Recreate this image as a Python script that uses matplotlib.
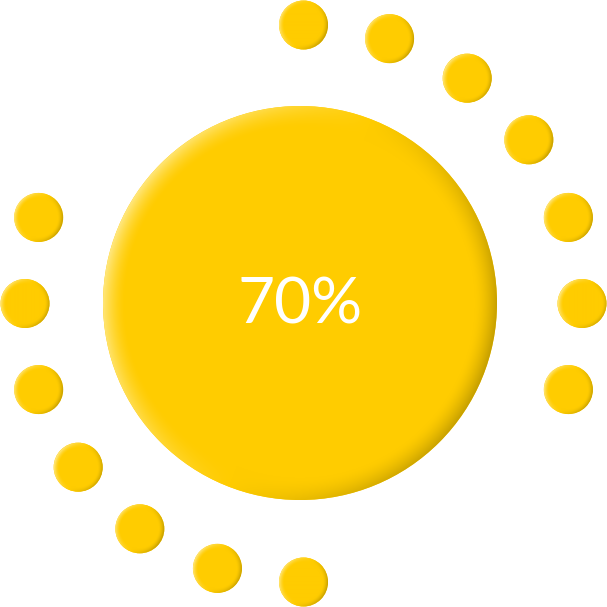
import numpy as np
import matplotlib
matplotlib.use("Agg")
import matplotlib.pyplot as plt
from matplotlib.patches import Circle

# ---- data ----
value_label = "70%"
n_positions = 20
# dots clockwise from top (90 deg), 18 deg apart; 1 = dot drawn
filled = [1, 1, 1, 1, 1, 1, 1, 0, 0, 0, 1, 1, 1, 1, 1, 1, 1, 0, 0, 0]

base = np.array([255, 204, 0]) / 255.0
light = np.array([255, 232, 130]) / 255.0
dark = np.array([196, 158, 0]) / 255.0

W = H = 607
fig = plt.figure(figsize=(6.07, 6.07), dpi=100)
ax = fig.add_axes([0, 0, 1, 1])
ax.set_xlim(0, W)
ax.set_ylim(H, 0)
ax.set_aspect("equal")
ax.axis("off")


def shaded_circle(cx, cy, r, edge, strength=1.0):
    circ = Circle((cx, cy), r, facecolor=base, edgecolor="none", zorder=2)
    ax.add_patch(circ)
    n = int(2 * r) + 4
    xs = np.linspace(cx - r - 2, cx + r + 2, n)
    ys = np.linspace(cy - r - 2, cy + r + 2, n)
    X, Y = np.meshgrid(xs, ys)
    dx, dy = X - cx, Y - cy
    d = np.sqrt(dx ** 2 + dy ** 2) + 1e-9
    t = np.clip((d - (r - edge)) / edge, 0, 1) ** 1.6
    direc = 0.9 * dx / d + 0.35 * dy / d
    direc = np.clip(direc, -1, 1)
    img = np.tile(base, (n, n, 1))
    kd = np.clip(direc, 0, 1)[..., None] * t[..., None] * strength
    kl = np.clip(-direc, 0, 1)[..., None] * t[..., None] * strength
    img = img * (1 - kd - kl) + dark * kd + light * kl
    im = ax.imshow(np.clip(img, 0, 1), extent=(xs[0], xs[-1], ys[-1], ys[0]),
                   zorder=3, interpolation="bilinear")
    im.set_clip_path(circ)


# big circle
shaded_circle(300, 303, 197, 22, 1.0)

# ring of dots
ring_cx, ring_cy, ring_r, dot_r = 303.5, 303.5, 278.5, 24.5
for i, f in enumerate(filled):
    if not f:
        continue
    ang = np.deg2rad(90 - i * 360.0 / n_positions)
    x = ring_cx + ring_r * np.cos(ang)
    y = ring_cy - ring_r * np.sin(ang)
    shaded_circle(x, y, dot_r, 5, 0.9)

ax.text(300, 305, value_label, color="white", fontsize=46, family="Lato",
        ha="center", va="center", zorder=5)

fig.savefig("out.png", dpi=100)
